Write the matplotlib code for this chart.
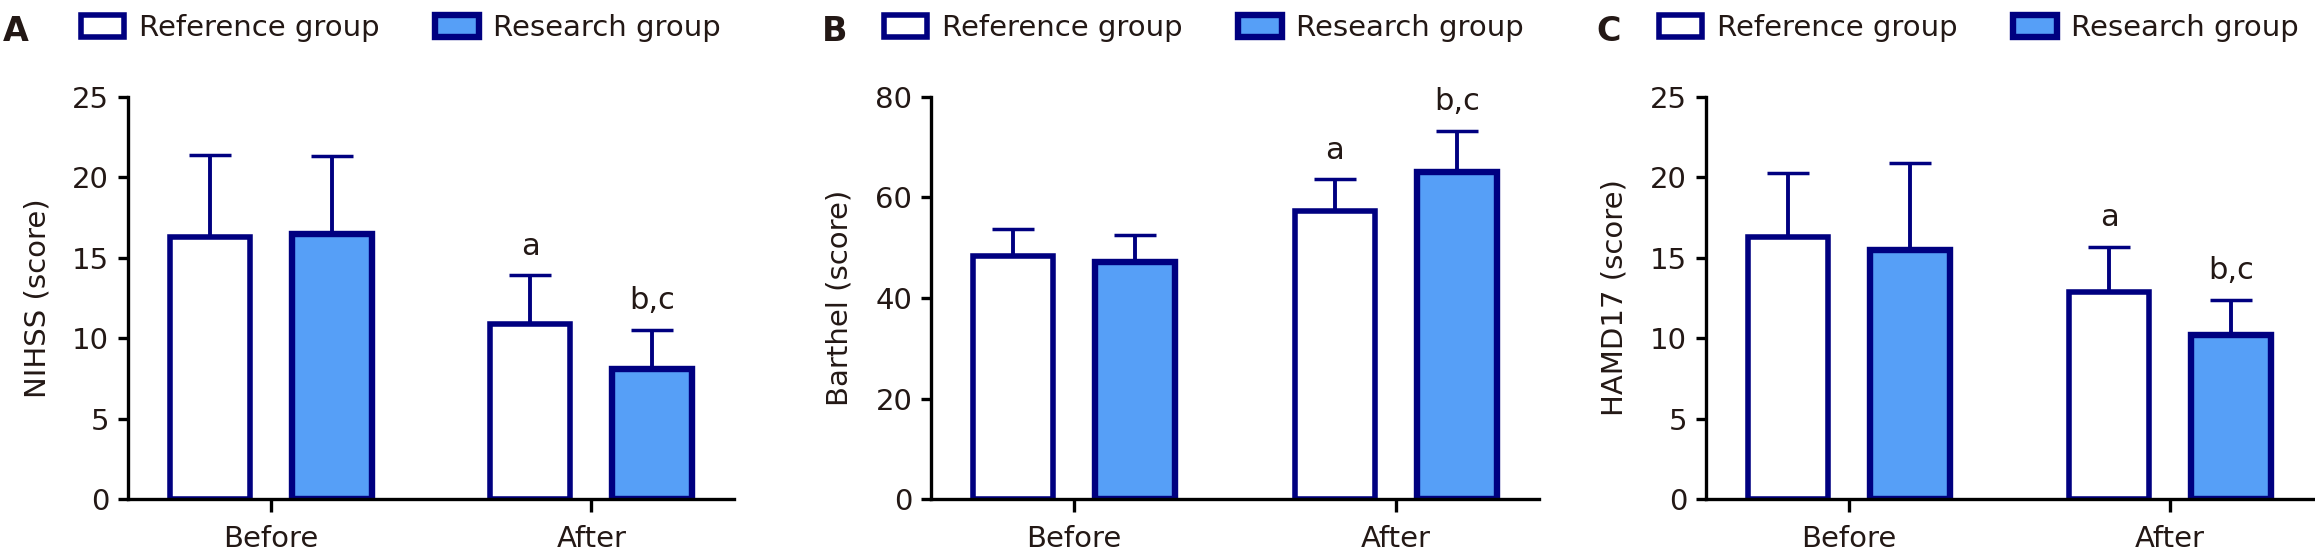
"""Three-panel before/after bar charts (NIHSS, Barthel, HAMD17)."""

import matplotlib

matplotlib.use("Agg")
import matplotlib.pyplot as plt
import numpy as np

NAVY = "#000080"
BLUE = "#569ff7"
TEXT = "#231815"

categories = ["Before", "After"]
groups = ["Reference group", "Research group"]

nihss_ref_mean = [16.3, 10.9]
nihss_ref_sd = [5.1, 3.0]
nihss_res_mean = [16.5, 8.1]
nihss_res_sd = [4.8, 2.4]

barthel_ref_mean = [48.4, 57.4]
barthel_ref_sd = [5.3, 6.2]
barthel_res_mean = [47.2, 65.1]
barthel_res_sd = [5.4, 8.1]

hamd_ref_mean = [16.3, 12.9]
hamd_ref_sd = [4.0, 2.8]
hamd_res_mean = [15.5, 10.2]
hamd_res_sd = [5.4, 2.2]

ref_marks = ["", "a"]
res_marks = ["", "b,c"]

plt.rcParams["font.family"] = ["DejaVu Sans"]
plt.rcParams["text.color"] = TEXT


def draw_panel(ax, ref_mean, ref_sd, res_mean, res_sd, ylabel, ymax, ystep):
    x = np.arange(len(categories))
    width = 0.25
    offset = 0.19

    for xs, mean, sd in ((x - offset, ref_mean, ref_sd), (x + offset, res_mean, res_sd)):
        ax.errorbar(xs, mean, yerr=[np.zeros(len(sd)), sd], fmt="none", ecolor=NAVY,
                    elinewidth=2.8, capsize=15, capthick=2.5, zorder=1)

    ax.bar(x - offset, ref_mean, width, color="white", edgecolor=NAVY,
           linewidth=4.0, label=groups[0], zorder=2)
    ax.bar(x + offset, res_mean, width, color=BLUE, edgecolor=NAVY,
           linewidth=4.6, label=groups[1], zorder=2)

    for xs, mean, sd, marks in ((x - offset, ref_mean, ref_sd, ref_marks),
                                (x + offset, res_mean, res_sd, res_marks)):
        for xi, m, s, t in zip(xs, mean, sd, marks):
            if t:
                ax.annotate(t, xy=(xi, m + s), xytext=(0, 15), textcoords="offset points",
                            ha="center", va="baseline", fontsize=22, color=TEXT)

    ax.set_xlim(-0.445, 1.445)
    ax.set_ylim(0, ymax)
    ax.set_yticks(np.arange(0, ymax + ystep / 2, ystep))
    ax.set_xticks(x)
    ax.set_xticklabels(categories)

    for side in ("top", "right"):
        ax.spines[side].set_visible(False)
    for side in ("left", "bottom"):
        ax.spines[side].set_linewidth(2.4)
        ax.spines[side].set_color("black")

    ax.tick_params(axis="y", length=7.5, width=2.4, pad=6, labelsize=21, labelcolor=TEXT)
    ax.tick_params(axis="x", length=9, width=2.4, pad=10, labelsize=21, labelcolor=TEXT)
    ax.set_ylabel(ylabel, fontsize=21, color=TEXT)
    ax.yaxis.set_label_coords(-0.127, 0.5)

    leg = ax.legend(loc="center left", bbox_to_anchor=(-0.078, 1.172), ncol=2,
                    frameon=False, fontsize=21, borderpad=0, borderaxespad=0,
                    handlelength=1.5, handleheight=0.8, handletextpad=0.5,
                    columnspacing=1.9)
    for txt in leg.get_texts():
        txt.set_color(TEXT)


fig = plt.figure(figsize=(23.15, 5.59), dpi=100)
W, H = 2315.0, 559.0
bottom = (H - 499) / H
height = (499 - 97) / H

ax_a = fig.add_axes([128 / W, bottom, 606 / W, height])
ax_b = fig.add_axes([931 / W, bottom, 608 / W, height])
ax_c = fig.add_axes([1706 / W, bottom, 607 / W, height])

draw_panel(ax_a, nihss_ref_mean, nihss_ref_sd, nihss_res_mean, nihss_res_sd,
           "NIHSS (score)", 25, 5)
draw_panel(ax_b, barthel_ref_mean, barthel_ref_sd, barthel_res_mean, barthel_res_sd,
           "Barthel (score)", 80, 20)
draw_panel(ax_c, hamd_ref_mean, hamd_ref_sd, hamd_res_mean, hamd_res_sd,
           "HAMD17 (score)", 25, 5)

for letter, xpx in (("A", 3), ("B", 822), ("C", 1596)):
    fig.text(xpx / W, (H - 41) / H, letter, fontsize=24, fontweight="bold",
             color=TEXT, ha="left", va="baseline")

fig.savefig("out.png", dpi=100)
